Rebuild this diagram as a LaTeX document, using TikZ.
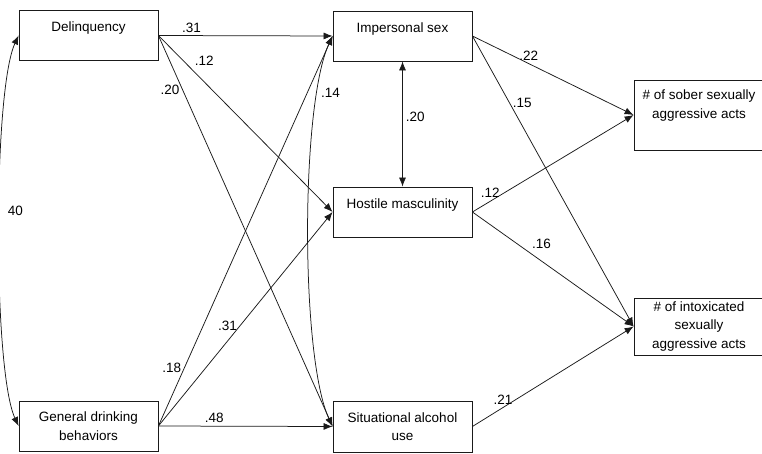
\documentclass[tikz,border=0pt]{standalone}
\usepackage{fontspec}
\setmainfont{Liberation Sans}
\usepackage{tikz}
\usetikzlibrary{arrows.meta}
\definecolor{pathink}{HTML}{1A1A1A}
\tikzset{
  box/.style={draw=pathink, line width=0.8pt, minimum width=139pt, minimum height=50pt, inner sep=0pt, align=center},
  onebox/.style={box, text height=10pt, text depth=17pt},
  outbox/.style={box, minimum width=130pt},
  arr/.style={draw=pathink, line width=0.75pt, -{Latex[length=9pt,width=7pt]}},
  dbl/.style={draw=pathink, line width=0.75pt, {Latex[length=9pt,width=7pt]}-{Latex[length=9pt,width=7pt]}},
  lab/.style={inner sep=3pt}
}

\begin{document}
\begin{tikzpicture}[x=1pt, y=1pt, font=\fontsize{13.5}{18.5}\selectfont]
    \useasboundingbox (0,0) rectangle (762,453);

    % Predictors
    \node[onebox] (delinq) at (88.5,417.5) {Delinquency};
    \node[box] (drink) at (88.5,27) {General drinking\\behaviors};

    % Mediators
    \node[onebox] (imp) at (402.5,417) {Impersonal sex};
    \node[onebox] (host) at (402.5,241) {Hostile masculinity};
    \node[box, minimum height=51pt] (situ) at (402.5,26.5) {Situational alcohol\\use};

    % Outcomes
    \node[outbox, minimum height=70pt, text depth=22pt] (sober) at (699,338) {\# of sober sexually\\aggressive acts};
    \node[outbox, minimum height=57pt] (intox) at (699,126.5) {\# of intoxicated\\sexually\\aggressive acts};

    % Correlations
    \draw[dbl] (delinq.west) to[out=245, in=115, looseness=0.4] node[lab, pos=0.46, right=5pt] {40} (drink.west);
    \draw[dbl] (imp.south) -- node[lab, pos=0.44, right] {.20} (host.north);
    \draw[dbl] (imp.west) to[out=245, in=115, looseness=0.5] node[lab, pos=0.19, right] {.14} (situ.west);

    % Paths from delinquency
    \draw[arr] (delinq.east) -- node[lab, pos=0.19, above] {.31} (imp.west);
    \draw[arr] (delinq.east) -- node[lab, pos=0.19, above right] {.12} (host.west);
    \draw[arr] (delinq.east) -- node[lab, pos=0.14, left] {.20} (situ.west);

    % Paths from drinking
    \draw[arr] (drink.east) -- node[lab, pos=0.15, left] {.18} (imp.west);
    \draw[arr] (drink.east) -- node[lab, pos=0.47, left] {.31} (host.west);
    \draw[arr] (drink.east) -- node[lab, pos=0.32, above] {.48} (situ.west);

    % Paths to outcomes
    \draw[arr] (imp.east) -- node[lab, pos=0.35, above] {.22} (sober.west);
    \draw[arr] (imp.east) -- node[lab, pos=0.23, right] {.15} (intox.west);
    \draw[arr] (host.east) -- node[lab, pos=0.11, above] {.12} (sober.west);
    \draw[arr] (host.east) -- node[lab, pos=0.35, above right] {.16} (intox.west);
    \draw[arr] (situ.east) -- node[lab, pos=0.19, above] {.21} (intox.west);
\end{tikzpicture}
\end{document}
